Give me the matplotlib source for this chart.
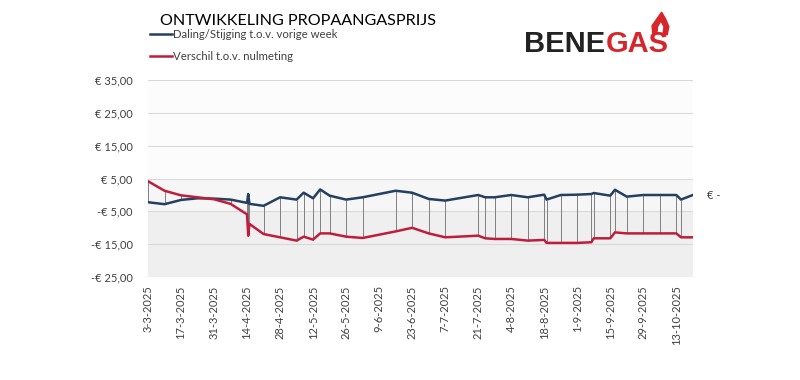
import matplotlib.pyplot as plt
import numpy as np
import pandas as pd
from matplotlib.patches import Polygon

plt.rcParams['font.family'] = ['Lato', 'DejaVu Sans']

# weekly price data (euro)
dates = pd.to_datetime([
    '2025-03-03 00:00', '2025-03-10 00:00', '2025-03-17 00:00', '2025-03-24 00:00', '2025-03-31 00:00',
    '2025-04-07 00:00', '2025-04-14 00:00', '2025-04-14 12:00', '2025-04-15 00:00',
    '2025-04-21 00:00', '2025-04-28 00:00', '2025-05-05 00:00', '2025-05-08 00:00', '2025-05-12 00:00',
    '2025-05-15 00:00', '2025-05-19 00:00', '2025-05-26 00:00', '2025-06-02 00:00', '2025-06-16 00:00',
    '2025-06-23 00:00', '2025-06-30 00:00', '2025-07-07 00:00', '2025-07-21 00:00', '2025-07-24 00:00',
    '2025-07-28 00:00', '2025-08-04 00:00', '2025-08-11 00:00', '2025-08-18 00:00', '2025-08-19 00:00',
    '2025-08-25 00:00', '2025-09-01 00:00', '2025-09-07 00:00', '2025-09-08 00:00', '2025-09-15 00:00',
    '2025-09-17 00:00', '2025-09-22 00:00', '2025-09-29 00:00', '2025-10-06 00:00', '2025-10-13 00:00',
    '2025-10-15 00:00', '2025-10-20 00:00'], format='%Y-%m-%d %H:%M')
weekChange = [
    -2.2, -2.8, -1.5, -1.0, -1.1,
    -1.4, -2.4, 0.3, -2.7,
    -3.3, -0.7, -1.4, 0.7, -1.0,
    1.7, -0.2, -1.4, -0.7, 1.3,
    0.7, -1.2, -1.7, 0.0, -0.7,
    -0.7, 0.0, -0.7, 0.1, -1.4,
    0.0, 0.1, 0.3, 0.6, -0.2,
    1.6, -0.5, 0.0, 0.0, 0.0,
    -1.4, 0.0]
baseDiff = [
    4.2, 1.3, -0.1, -0.7, -1.3,
    -2.7, -5.9, -12.4, -8.8,
    -11.9, -12.9, -13.9, -12.7, -13.6,
    -11.7, -11.7, -12.7, -13.1, -11.1,
    -10.0, -11.7, -12.9, -12.4, -13.2,
    -13.4, -13.4, -13.9, -13.7, -14.6,
    -14.6, -14.6, -14.4, -13.2, -13.2,
    -11.4, -11.7, -11.7, -11.7, -11.7,
    -12.9, -12.9]

yTicks = [-25, -15, -5, 5, 15, 25, 35]
tickDates = pd.date_range('2025-03-03', '2025-10-13', freq='14D')

blueColor = '#243f60'
redColor = '#be1e3c'
logoRed = '#d7262b'


def euroLabel(v):
    return ('-€ ' if v < 0 else '€ ') + f'{abs(v):.2f}'.replace('.', ',')


fig = plt.figure(figsize=(8, 3.8), dpi=100)
ax = fig.add_axes([0.185, 0.271, 0.681, 0.518])

ax.axhspan(-25, -5, color='#efefef', zorder=0, lw=0)
ax.axhspan(-5, 5, color='#f6f6f6', zorder=0, lw=0)
ax.axhspan(5, 35, color='#fcfcfc', zorder=0, lw=0)
for y in yTicks:
    ax.axhline(y, color='#d9d9d9', lw=0.8, zorder=1)

ax.vlines(dates, np.minimum(weekChange, baseDiff), np.maximum(weekChange, baseDiff),
          color='#7f7f7f', lw=0.7, zorder=2)
ax.plot(dates, weekChange, color=blueColor, lw=1.8, zorder=3)
ax.plot(dates, baseDiff, color=redColor, lw=1.8, zorder=3)

ax.text(dates[-1] + pd.Timedelta(days=6), weekChange[-1], '€ -', fontsize=8,
        color='#404040', va='center', ha='left')

ax.set_ylim(-25, 35)
ax.set_xlim(pd.Timestamp('2025-03-03'), pd.Timestamp('2025-10-20'))
ax.set_yticks(yTicks)
ax.set_yticklabels([euroLabel(v) for v in yTicks])
ax.set_xticks(tickDates)
ax.set_xticklabels([f'{d.day}-{d.month}-{d.year}' for d in tickDates], rotation=90)
ax.tick_params(axis='both', length=0, labelsize=8, labelcolor='#404040')
ax.tick_params(axis='y', pad=11)
ax.tick_params(axis='x', pad=6)
for s in ax.spines.values():
    s.set_visible(False)

# title and legend
fig.text(0.2, 0.945, 'ONTWIKKELING PROPAANGASPRIJS', fontsize=11.6, color='#000000',
         va='center', ha='left')
fig.lines.append(plt.Line2D([0.1875, 0.215], [0.91, 0.91], color=blueColor, lw=1.8,
                            transform=fig.transFigure))
fig.text(0.216, 0.91, 'Daling/Stijging t.o.v. vorige week', fontsize=8.2, color='#404040',
         va='center')
fig.lines.append(plt.Line2D([0.1875, 0.215], [0.852, 0.852], color=redColor, lw=1.8,
                            transform=fig.transFigure))
fig.text(0.216, 0.852, 'Verschil t.o.v. nulmeting', fontsize=8.2, color='#404040',
         va='center')

# logo
fig.text(0.757, 0.883, 'BENE', fontsize=21, fontweight='bold', color='#222222',
         va='center', ha='right', family=['Liberation Sans'])
fig.text(0.757, 0.883, 'GAS', fontsize=21, fontweight='bold', color=logoRed,
         va='center', ha='left', family=['Liberation Sans'])
flame = Polygon([[0.816, 0.912], [0.815, 0.932], [0.821, 0.950], [0.827, 0.968],
                 [0.832, 0.950], [0.836, 0.930], [0.834, 0.908], [0.829, 0.912],
                 [0.830, 0.930], [0.826, 0.945], [0.822, 0.930], [0.821, 0.912]],
                closed=True, color=logoRed, transform=fig.transFigure)
fig.patches.append(flame)

fig.savefig('out.png', dpi=100)
